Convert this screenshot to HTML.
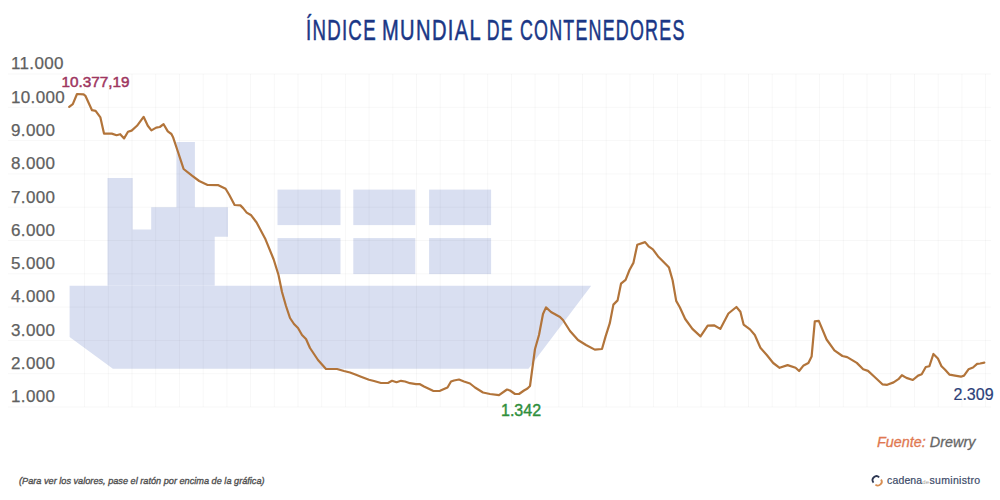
<!DOCTYPE html>
<html><head><meta charset="utf-8">
<style>
html,body{margin:0;padding:0;background:#fff;}
body{width:1000px;height:500px;position:relative;overflow:hidden;font-family:"Liberation Sans",sans-serif;}
.t{position:absolute;white-space:nowrap;line-height:1;}
.title{position:absolute;left:0;top:16px;font-size:29.2px;letter-spacing:2px;color:#1a3786;transform-origin:0 0;-webkit-text-stroke:0.55px #1a3786;white-space:nowrap;line-height:1;}
.yl{position:absolute;left:11px;font-size:17px;letter-spacing:0.35px;color:#606060;line-height:1;white-space:nowrap;-webkit-text-stroke:0.25px #606060;}
svg{position:absolute;left:0;top:0;}
</style></head><body>
<svg width="1000" height="500" viewBox="0 0 1000 500">
<g fill="#d9dff1">
<polygon points="69.6,285.7 591.2,285.7 528.5,368.7 112.9,368.7 69.6,337"/>
<polygon points="107.5,178 132.7,178 132.7,229.6 151.2,229.6 151.2,207.3 176.4,207.3 176.4,142 194.9,142 194.9,207.3 228,207.3 228,236.8 214.7,236.8 214.7,285.7 107.5,285.7"/>
<rect x="277.5" y="189.6" width="63" height="35.5"/>
<rect x="353.3" y="189.6" width="62" height="35.5"/>
<rect x="429.1" y="189.6" width="62" height="35.5"/>
<rect x="277.5" y="238.1" width="63" height="36"/>
<rect x="353.3" y="238.1" width="62" height="36"/>
<rect x="429.1" y="238.1" width="62" height="36"/>
</g>
<g stroke="rgba(0,0,0,0.03)" stroke-width="1">
<line x1="8" y1="74.0" x2="991" y2="74.0"/>
<line x1="8" y1="107.3" x2="991" y2="107.3"/>
<line x1="8" y1="140.6" x2="991" y2="140.6"/>
<line x1="8" y1="173.9" x2="991" y2="173.9"/>
<line x1="8" y1="207.2" x2="991" y2="207.2"/>
<line x1="8" y1="240.5" x2="991" y2="240.5"/>
<line x1="8" y1="273.8" x2="991" y2="273.8"/>
<line x1="8" y1="307.1" x2="991" y2="307.1"/>
<line x1="8" y1="340.4" x2="991" y2="340.4"/>
<line x1="8" y1="373.7" x2="991" y2="373.7"/>
<line x1="8" y1="407.0" x2="991" y2="407.0"/>
<line x1="84.6" y1="74" x2="84.6" y2="407"/>
<line x1="108.3" y1="74" x2="108.3" y2="407"/>
<line x1="132.0" y1="74" x2="132.0" y2="407"/>
<line x1="155.7" y1="74" x2="155.7" y2="407"/>
<line x1="179.4" y1="74" x2="179.4" y2="407"/>
<line x1="203.2" y1="74" x2="203.2" y2="407"/>
<line x1="226.9" y1="74" x2="226.9" y2="407"/>
<line x1="250.6" y1="74" x2="250.6" y2="407"/>
<line x1="274.3" y1="74" x2="274.3" y2="407"/>
<line x1="298.0" y1="74" x2="298.0" y2="407"/>
<line x1="321.7" y1="74" x2="321.7" y2="407"/>
<line x1="345.4" y1="74" x2="345.4" y2="407"/>
<line x1="369.1" y1="74" x2="369.1" y2="407"/>
<line x1="392.8" y1="74" x2="392.8" y2="407"/>
<line x1="416.5" y1="74" x2="416.5" y2="407"/>
<line x1="440.2" y1="74" x2="440.2" y2="407"/>
<line x1="464.0" y1="74" x2="464.0" y2="407"/>
<line x1="487.7" y1="74" x2="487.7" y2="407"/>
<line x1="511.4" y1="74" x2="511.4" y2="407"/>
<line x1="535.1" y1="74" x2="535.1" y2="407"/>
<line x1="558.8" y1="74" x2="558.8" y2="407"/>
<line x1="582.5" y1="74" x2="582.5" y2="407"/>
<line x1="606.2" y1="74" x2="606.2" y2="407"/>
<line x1="629.9" y1="74" x2="629.9" y2="407"/>
<line x1="653.6" y1="74" x2="653.6" y2="407"/>
<line x1="677.4" y1="74" x2="677.4" y2="407"/>
<line x1="701.1" y1="74" x2="701.1" y2="407"/>
<line x1="724.8" y1="74" x2="724.8" y2="407"/>
<line x1="748.5" y1="74" x2="748.5" y2="407"/>
<line x1="772.2" y1="74" x2="772.2" y2="407"/>
<line x1="795.9" y1="74" x2="795.9" y2="407"/>
<line x1="819.6" y1="74" x2="819.6" y2="407"/>
<line x1="843.3" y1="74" x2="843.3" y2="407"/>
<line x1="867.0" y1="74" x2="867.0" y2="407"/>
<line x1="890.7" y1="74" x2="890.7" y2="407"/>
<line x1="914.5" y1="74" x2="914.5" y2="407"/>
<line x1="938.2" y1="74" x2="938.2" y2="407"/>
<line x1="961.9" y1="74" x2="961.9" y2="407"/>
<line x1="985.6" y1="74" x2="985.6" y2="407"/>
</g>
<polyline fill="none" stroke="#b2743a" stroke-width="2.2" stroke-linejoin="round" stroke-linecap="round" points="69.2,106.8 72.8,104.2 77.0,94.0 83.6,94.4 85.4,95.8 92.0,110.2 95.6,110.8 100.4,117.4 104.0,133.6 111.8,133.6 116.6,135.2 120.2,134.2 124.1,138.4 128.0,131.8 131.6,130.6 137.0,125.8 143.6,116.8 147.8,125.8 151.4,130.4 156.2,127.6 159.8,127.0 163.6,124.2 167.8,131.4 171.4,134.0 173.2,137.6 178.0,152.0 181.6,162.8 183.6,169.0 192.0,175.6 199.2,181.0 207.6,185.0 218.4,185.2 225.6,188.8 229.2,194.8 234.6,205.0 240.4,205.4 243.1,208.1 246.7,212.6 251.2,215.3 256.6,222.5 265.6,239.6 273.7,259.5 278.5,275 282,292 286,306 290,318 294,324 298,328 302,335 306,339 310,348 318,360 326,369 337,369 344,371 350,372.5 356,374.8 361,376.8 369,379.8 374,381 381,383 388,383 392,380.8 396.5,382.2 401,380.8 405,381.5 410,383.2 416,384.2 420,384.2 424,386.5 433,390.8 437,391 440,390.8 444,389 447.5,387.5 451,381.5 454,380.5 459,379.5 464,381.5 470,383.5 475,387.5 483,392.5 490,394 499,395.2 507,389.5 510,390.5 515,394 519,394 524,390.5 527.5,388.5 530,386 532,371 535,349 539,335 543,314 546,307.4 551,312 560,317 563,320 570,331 578,340 586,345 594.8,349.6 602,349 605.6,336.4 609.8,323.2 613.4,304.6 617.6,300.4 621,283.7 625.6,279.8 629.5,270 633.4,262.9 637.3,244.7 645.1,242.1 649,246.7 652.9,249.3 658.1,256.4 667.1,265.5 669,267.6 672.6,280.2 676.2,300.9 679.8,307.2 685.2,319 692.4,328.9 700.5,336.4 707.7,325.6 714,325.3 720.3,328.9 728.4,313.5 736.4,307 740.4,311.8 743.6,324.6 750,329.4 754.8,335 760.4,347.8 766.8,355 773.2,363 779.6,367.8 787.6,365.1 795.6,367.8 799.1,371 803.6,365.4 808.4,363 811.6,356.6 814.8,321.4 818.8,320.9 826.6,339.5 834.4,350.4 842.4,356 847.2,357.1 856.8,362.9 863.2,369.3 868,370.9 874.4,376.8 882.4,384.3 887.2,384.8 893.6,382.4 898.4,379.2 901.9,375.2 906.4,377.9 912.8,380 918.1,375.6 921.7,374.3 925.8,367 929.4,366.2 933.4,354 937.9,358.5 941.5,366.2 945.1,369.8 949.6,374.7 955,375.6 960.9,376.7 964,375.6 968.5,369.3 973,367.5 977.1,363.9 980.2,363.5 984.3,362.6"/>
</svg>
<div class="title" style="transform:translateX(305.92px) scaleX(0.6396)">ÍNDICE</div><div class="title" style="transform:translateX(381.92px) scaleX(0.6894)">MUNDIAL</div><div class="title" style="transform:translateX(486.79px) scaleX(0.605)">DE</div><div class="title" style="transform:translateX(519.89px) scaleX(0.6124)">CONTENEDORES</div>
<div class="yl" style="top:55.3px">11.000</div>
<div class="yl" style="top:88.6px">10.000</div>
<div class="yl" style="top:121.9px">9.000</div>
<div class="yl" style="top:155.2px">8.000</div>
<div class="yl" style="top:188.5px">7.000</div>
<div class="yl" style="top:221.8px">6.000</div>
<div class="yl" style="top:255.1px">5.000</div>
<div class="yl" style="top:288.4px">4.000</div>
<div class="yl" style="top:321.7px">3.000</div>
<div class="yl" style="top:355.0px">2.000</div>
<div class="yl" style="top:388.3px">1.000</div>

<div class="t" id="peak" style="left:61.5px;top:73.5px;font-size:15.3px;color:#9e3560;-webkit-text-stroke:0.5px #9e3560;">10.377,19</div>
<div class="t" id="min" style="left:501px;top:402.8px;font-size:16px;color:#2f8f3c;-webkit-text-stroke:0.4px #2f8f3c;">1.342</div>
<div class="t" id="last" style="left:953.5px;top:387.3px;font-size:16px;color:#2b4079;-webkit-text-stroke:0.2px #2b4079;">2.309</div>
<div class="t" id="fuente" style="left:877px;top:434px;font-size:15px;font-style:italic;transform-origin:0 0;transform:scaleX(0.96);"><span style="color:#e07850;-webkit-text-stroke:0.3px #e07850">Fuente:</span> <span style="color:#666;-webkit-text-stroke:0.3px #666">Drewry</span></div>
<div class="t" id="foot" style="left:0;top:476px;font-size:9.5px;font-style:italic;color:#505050;-webkit-text-stroke:0.35px #505050;transform-origin:0 0;transform:translateX(19px) scaleX(0.965);">(Para ver los valores, pase el ratón por encima de la gráfica)</div>
<svg width="1000" height="500" style="position:absolute;left:0;top:0"><path d="M879.2,477.3 A3.9,3.9 0 0 0 873.5,482.6" fill="none" stroke="#2c3652" stroke-width="1.8"/><path d="M881.1,479.4 A3.9,3.9 0 0 1 875.4,484.6" fill="none" stroke="#d88e52" stroke-width="1.8"/></svg>
<div class="t" id="logo" style="left:887px;top:474.5px;font-size:10.5px;letter-spacing:0.15px;color:#3b4a68;-webkit-text-stroke:0.2px #3b4a68;">cadena<span style="font-size:6px;letter-spacing:0;color:#a8a49c;-webkit-text-stroke:0;margin:0 0.5px 0 0">de</span><span style="letter-spacing:0.3px">suministro</span></div>
</body></html>
